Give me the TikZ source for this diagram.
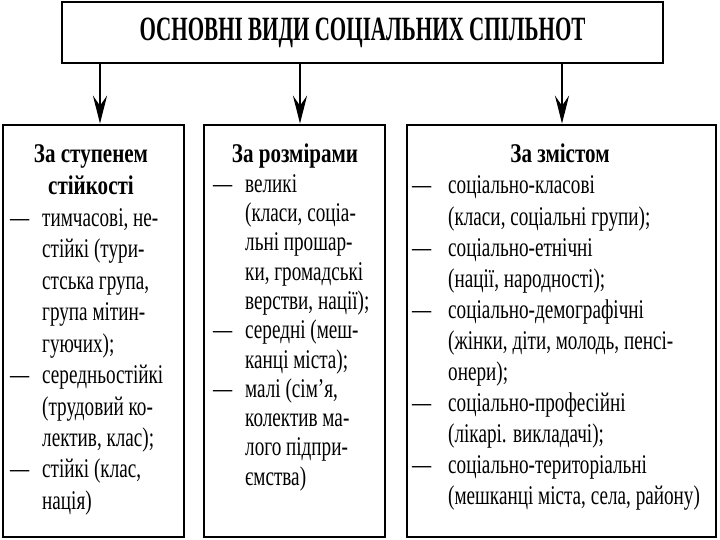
\documentclass[tikz,border=0pt]{standalone}
\usepackage{fontspec}
\setmainfont{Liberation Serif}[FakeStretch=0.71]
\newfontfamily\headfont{Liberation Serif}[FakeStretch=0.78]
\newfontfamily\titlefont{Liberation Serif}[FakeStretch=0.62]
\usetikzlibrary{arrows.meta}
\begin{document}
\begin{tikzpicture}[x=1pt,y=-1pt,
  box/.style={draw, line width=2.6pt, inner sep=0pt},
  arr/.style={line width=2.4pt, -{Stealth[length=28pt,width=14pt,inset=10pt]}},
  head/.style={font=\headfont\fontsize{27}{30}\selectfont\bfseries, inner sep=0pt, anchor=base},
  list/.style={inner sep=0pt, anchor=base west, align=left}
]
\useasboundingbox (0,0) rectangle (720,540);
\fill[white] (0,0) rectangle (720,540);
\node[box, minimum width=601pt, minimum height=61pt, font=\titlefont\fontsize{34}{38}\selectfont\bfseries] (top) at (362.5,32.5) {ОСНОВНІ ВИДИ СОЦІАЛЬНИХ СПІЛЬНОТ};
\node[box, minimum width=181pt, minimum height=412pt] (b1) at (93.5,331) {};
\node[box, minimum width=181pt, minimum height=412pt] (b2) at (294.5,331) {};
\node[box, minimum width=309pt, minimum height=412pt] (b3) at (561.5,331) {};
\coordinate (a1) at (100,0);
\coordinate (a2) at (300,0);
\coordinate (a3) at (562,0);
\draw[arr] (top.south -| a1) -- (b1.north -| a1);
\draw[arr] (top.south -| a2) -- (b2.north -| a2);
\draw[arr] (top.south -| a3) -- (b3.north -| a3);
\node[head] (h1a) at (91,163) {За ступенем};
\node[head] (h1b) at (91,194.5) {стійкості};
\node[head] (h2) at (295,163) {За розмірами};
\node[head] (h3) at (560,163) {За змістом};
\node[list, font=\fontsize{27}{31.5}\selectfont] (l1) at (10,226) {\begin{tabular}[t]{@{}p{32pt}@{}l@{}}
—&тимчасові, не-\\
&стійкі (тури-\\
&стська група,\\
&група мітин-\\
&гуючих);\\
—&середньостійкі\\
&(трудовий ко-\\
&лектив, клас);\\
—&стійкі (клас,\\
&нація)
\end{tabular}};
\node[list, font=\fontsize{27}{29.3}\selectfont] (l2) at (213,192.3) {\begin{tabular}[t]{@{}p{32pt}@{}l@{}}
—&великі\\
&(класи, соціа-\\
&льні прошар-\\
&ки, громадські\\
&верстви, нації);\\
—&середні (меш-\\
&канці міста);\\
—&малі (сім’я,\\
&колектив ма-\\
&лого підпри-\\
&ємства)
\end{tabular}};
\node[list, font=\fontsize{27}{31.1}\selectfont] (l3) at (412,194) {\begin{tabular}[t]{@{}p{36pt}@{}l@{}}
—&соціально-класові\\
&(класи, соціальні групи);\\
—&соціально-етнічні\\
&(нації, народності);\\
—&соціально-демографічні\\
&(жінки, діти, молодь, пенсі-\\
&онери);\\
—&соціально-професійні\\
&(лікарі. викладачі);\\
—&соціально-територіальні\\
&(мешканці міста, села, району)
\end{tabular}};
\end{tikzpicture}
\end{document}
